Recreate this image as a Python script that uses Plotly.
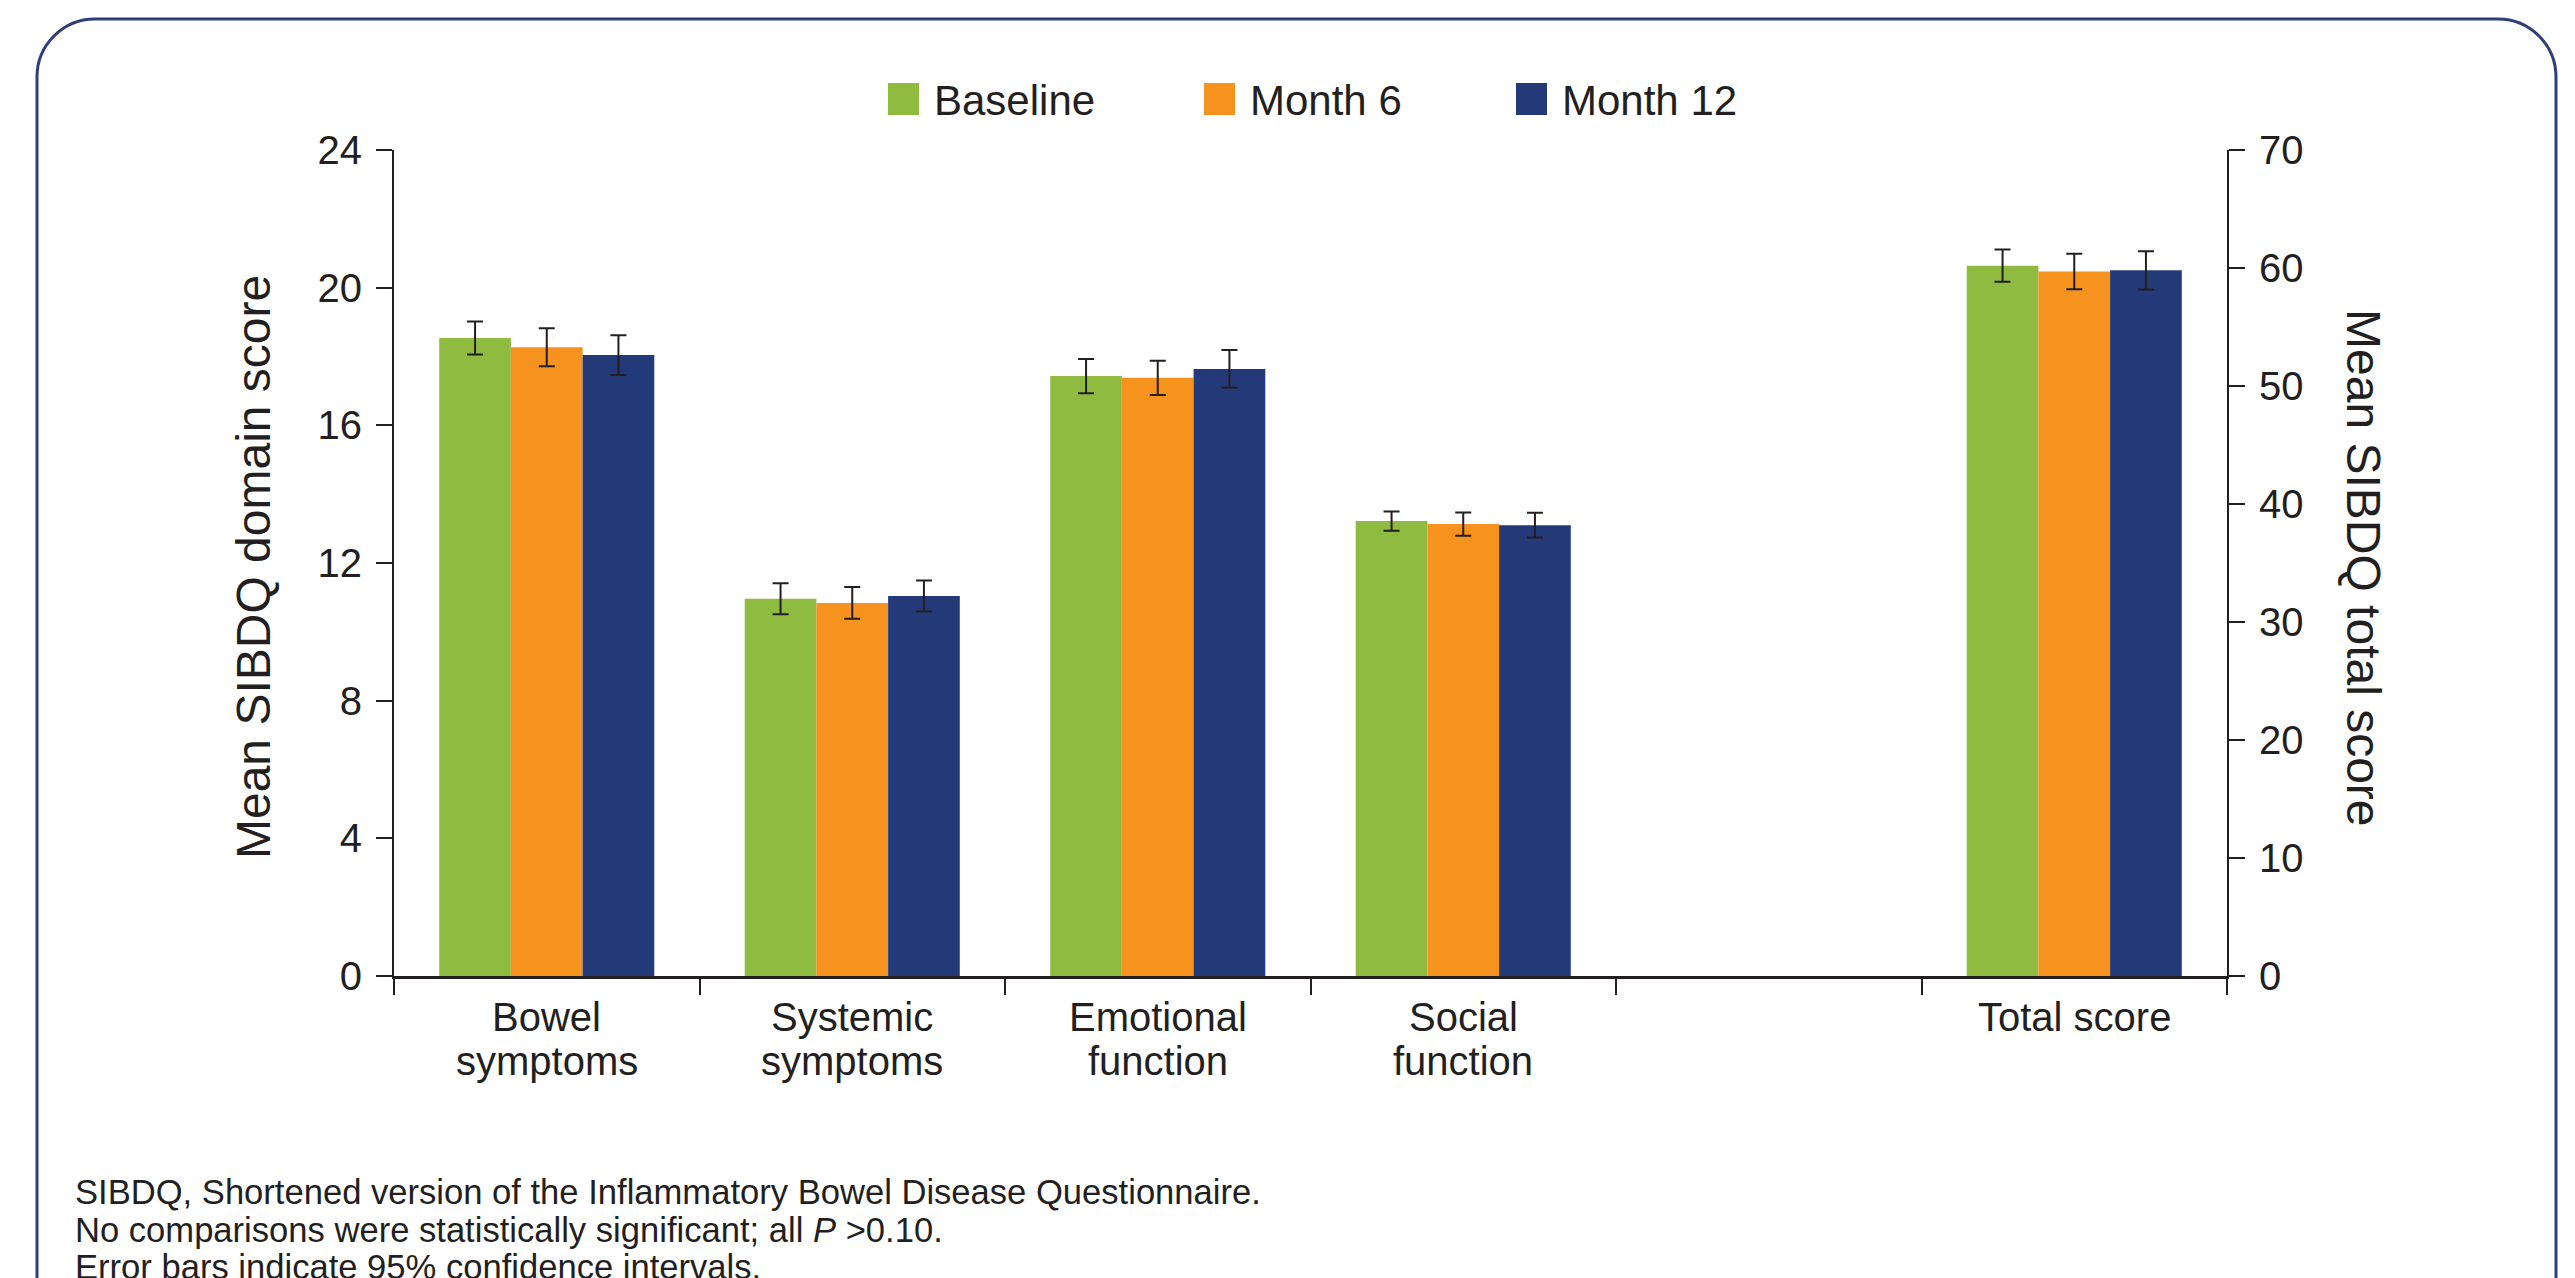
import plotly.graph_objects as go

# ---------------- data ----------------
series_names = ["Baseline", "Month 6", "Month 12"]
series_colors = ["#8FBB41", "#F6921E", "#243A78"]

domain_categories = ["Bowel<br>symptoms", "Systemic<br>symptoms", "Emotional<br>function", "Social<br>function"]
blank_category = "\u200b"
total_category = "Total score"

baseline_domain = [18.54, 10.96, 17.43, 13.22]
month6_domain = [18.27, 10.84, 17.38, 13.13]
month12_domain = [18.04, 11.04, 17.64, 13.10]

baseline_domain_ci = [0.48, 0.45, 0.50, 0.28]
month6_domain_ci = [0.55, 0.46, 0.50, 0.34]
month12_domain_ci = [0.58, 0.45, 0.55, 0.36]

total_scores = [60.2, 59.7, 59.8]
total_ci = [1.37, 1.50, 1.62]

left_ticks = [0, 4, 8, 12, 16, 20, 24]
right_ticks = [0, 10, 20, 30, 40, 50, 60, 70]

footnotes = [
    "SIBDQ, Shortened version of the Inflammatory Bowel Disease Questionnaire.",
    "No comparisons were statistically significant; all <i>P</i> &gt;0.10.",
    "Error bars indicate 95% confidence intervals.",
]

# ---------------- layout geometry ----------------
W, H = 2575, 1278
L, R, T, B = 394, 2227, 150, 976
PW, PH = R - L, B - T

def px(x):
    return (x - L) / PW

def py(y):
    return (B - y) / PH

FONT = "Liberation Sans, Arial, Helvetica, sans-serif"
INK = "#231F20"
FRAME = "#2E3D7C"

fig = go.Figure()

domain_values = [baseline_domain, month6_domain, month12_domain]
domain_cis = [baseline_domain_ci, month6_domain_ci, month12_domain_ci]

for name, color, vals, ci in zip(series_names, series_colors, domain_values, domain_cis):
    fig.add_trace(go.Bar(
        x=domain_categories, y=vals, name=name, marker_color=color,
        marker_line_width=0,
        error_y=dict(type="data", array=ci, color=INK, thickness=2, width=8),
        xaxis="x", yaxis="y", showlegend=False,
    ))

for name, color, val, ci in zip(series_names, series_colors, total_scores, total_ci):
    fig.add_trace(go.Bar(
        x=[total_category], y=[val], name=name, marker_color=color,
        marker_line_width=0,
        error_y=dict(type="data", array=[ci], color=INK, thickness=2, width=8),
        xaxis="x", yaxis="y2", showlegend=False,
    ))

all_categories = domain_categories + [blank_category, total_category]

fig.update_layout(
    width=W, height=H,
    margin=dict(l=L, r=W - R, t=T, b=H - B, pad=0),
    paper_bgcolor="white", plot_bgcolor="white",
    barmode="group", bargap=0.296, bargroupgap=0,
    font=dict(family=FONT, color=INK, size=40),
    xaxis=dict(
        type="category", categoryorder="array", categoryarray=all_categories,
        range=[-0.5, 5.5], tickson="boundaries",
        showline=True, linewidth=3, linecolor=INK,
        ticks="outside", ticklen=16, tickwidth=2, tickcolor=INK,
        showgrid=False, zeroline=False, showticklabels=False,
    ),
    yaxis=dict(
        range=[0, 24], tickmode="array", tickvals=left_ticks,
        showline=True, linewidth=2, linecolor=INK,
        ticks="outside", ticklen=16, tickwidth=2, tickcolor=INK,
        showgrid=False, zeroline=False, ticklabelstandoff=6,
        tickfont=dict(size=40, color=INK, family=FONT),
    ),
    yaxis2=dict(
        range=[0, 70], tickmode="array", tickvals=right_ticks,
        overlaying="y", side="right", anchor="x",
        showline=True, linewidth=2, linecolor=INK,
        ticks="outside", ticklen=16, tickwidth=2, tickcolor=INK,
        showgrid=False, zeroline=False, ticklabelstandoff=6,
        tickfont=dict(size=40, color=INK, family=FONT),
    ),
    showlegend=False,
)

annotations = []
shapes = []

# category labels (tight two-line spacing like the reference)
for cat in domain_categories + [total_category]:
    for j, part in enumerate(cat.split("<br>")):
        annotations.append(dict(
            text=part, x=cat, xref="x", y=py(1017 + j * 44), yref="paper",
            xanchor="center", yanchor="middle", showarrow=False,
            font=dict(size=40, color=INK, family=FONT),
        ))

# axis titles
annotations.append(dict(
    text="Mean SIBDQ domain score", x=px(253), y=py(567), xref="paper", yref="paper",
    xanchor="center", yanchor="middle", textangle=-90, showarrow=False,
    font=dict(size=48, color=INK, family=FONT),
))
annotations.append(dict(
    text="Mean SIBDQ total score", x=px(2364), y=py(568), xref="paper", yref="paper",
    xanchor="center", yanchor="middle", textangle=90, showarrow=False,
    font=dict(size=48, color=INK, family=FONT),
))

# manual legend
legend_sq_x = [888, 1204, 1516]
for name, color, x0 in zip(series_names, series_colors, legend_sq_x):
    shapes.append(dict(
        type="rect", xref="paper", yref="paper",
        x0=px(x0), x1=px(x0 + 31), y0=py(115), y1=py(83),
        fillcolor=color, line=dict(width=0),
    ))
    annotations.append(dict(
        text=name, x=px(x0 + 44), y=py(100), xref="paper", yref="paper",
        xanchor="left", yanchor="middle", showarrow=False,
        font=dict(size=42, color=INK, family=FONT),
    ))

# footnotes
for i, line in enumerate(footnotes):
    annotations.append(dict(
        text=line, x=px(73), y=py(1192 + i * 37.5), xref="paper", yref="paper",
        xanchor="left", yanchor="middle", showarrow=False,
        font=dict(size=34.6, color=INK, family=FONT),
    ))

# rounded frame (top part, sides run off the bottom)
r = 58
k = 0.5523 * r
x0f, x1f, y0f, ybot = 37, 2556, 19, 1300
def P(x, y):
    return f"{px(x):.6f},{py(y):.6f}"
path = (
    f"M {P(x0f, ybot)} L {P(x0f, y0f + r)} "
    f"C {P(x0f, y0f + r - k)} {P(x0f + r - k, y0f)} {P(x0f + r, y0f)} "
    f"L {P(x1f - r, y0f)} "
    f"C {P(x1f - r + k, y0f)} {P(x1f, y0f + r - k)} {P(x1f, y0f + r)} "
    f"L {P(x1f, ybot)}"
)
shapes.append(dict(type="path", xref="paper", yref="paper", path=path,
                   line=dict(color=FRAME, width=3), fillcolor="rgba(0,0,0,0)"))

fig.update_layout(annotations=annotations, shapes=shapes)

fig.write_html("out.html")
